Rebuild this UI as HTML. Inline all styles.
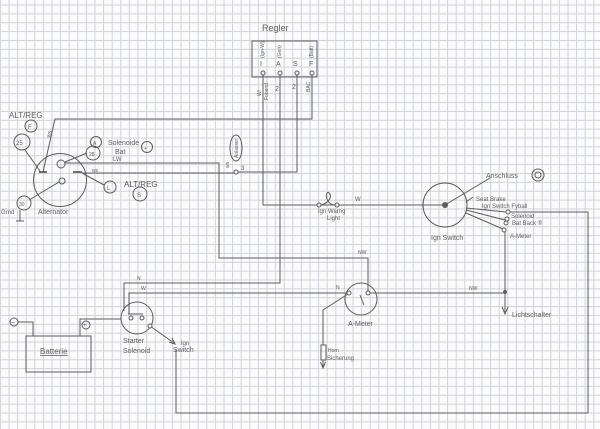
<!DOCTYPE html>
<html><head><meta charset="utf-8"><style>
html,body{margin:0;padding:0;background:#fbfbfb;}
svg{display:block;}
text{font-family:"Liberation Sans",sans-serif;fill:#606060;}
</style></head><body>
<svg width="600" height="429" viewBox="0 0 600 429" xmlns="http://www.w3.org/2000/svg">
<defs>
<pattern id="g" x="8.5" y="4.5" width="8.6" height="8.87" patternUnits="userSpaceOnUse">
<path d="M0.5 0V8.87M0 0.5H8.6" stroke="#d0d3da" stroke-width="1" fill="none"/>
</pattern>
</defs>
<rect width="600" height="429" fill="#fbfbfb"/>
<rect width="600" height="429" fill="url(#g)"/>

<g fill="none" stroke="#5c5c5c" stroke-width="1">
<rect x="252" y="41" width="65" height="36"/>
<path d="M263 75V205H317M321 205H335M339 205H443"/>
<circle cx="319" cy="205" r="2"/>
<circle cx="337" cy="205" r="2"/>
<path d="M321 205C326 204 332 199 330 194C328 190 325 194 327 199C329 204 333 205 335 205"/>
<path d="M280 75V283H124V311"/>
<path d="M297 75V172H238"/>
<path d="M312 75V119H55L43 172"/>
<path d="M65 163H219V258H368V291"/>
<path d="M82 173H234"/>
<path d="M129 314V293H347"/>
<path d="M370 293H505"/>
<path d="M505 231V312"/>
<path d="M502 307L505 314L508 307" />
<path d="M348 294L323 310V345M323 360V367"/>
<rect x="321" y="345" width="5" height="15"/>
<path d="M320.5 362L323 368L325.5 362"/>
<rect x="26" y="336" width="65" height="36"/>
<path d="M80 336V319H121"/>
<path d="M18 322H33V336"/>
<circle cx="14" cy="322" r="4"/>
<circle cx="86" cy="325" r="4"/>
<circle cx="137" cy="318" r="16"/>
<path d="M128 314H143"/>
<path d="M150 326L174 343"/>
<path d="M169 342L175 344L172 338"/>
<path d="M176 350V413H588V212H509"/>
<circle cx="361" cy="299" r="16"/>
<path d="M360 295L364 305"/>
<circle cx="445" cy="205" r="22"/>
<path d="M445 205L490 178"/>
<path d="M466 208L506 212M466 210L505 220M466 213L503 229"/>
<path d="M466 202L473 197"/>
<circle cx="60" cy="180" r="26.5"/>
<circle cx="61" cy="164" r="4"/>
<circle cx="62" cy="181" r="3"/>
<path d="M39 172H47M73 172H82" stroke-width="1.8"/>
<path d="M65 162L87 153"/>
<path d="M82 173L104 185"/>
<path d="M25 150L40 171"/>
<path d="M29 200L59 182"/>
<path d="M20 210V221M16 221H24"/>
<circle cx="93" cy="153" r="7"/>
<circle cx="96" cy="142" r="5.5"/>
<circle cx="110" cy="187" r="6"/>
<circle cx="22" cy="142" r="8"/>
<circle cx="31" cy="126" r="6"/>
<circle cx="24" cy="203" r="7"/>
<circle cx="140" cy="194" r="7"/>
<circle cx="147" cy="147" r="5.5"/>
<circle cx="538" cy="175" r="6"/>
<ellipse cx="538" cy="175" rx="3" ry="3"/>
<ellipse cx="236" cy="148" rx="6" ry="13"/>
</g>

<g fill="#fbfbfb" stroke="#5c5c5c" stroke-width="1">
<circle cx="263" cy="73" r="2"/>
<circle cx="280" cy="73" r="2"/>
<circle cx="297" cy="73" r="2"/>
<circle cx="312" cy="73" r="2"/>
<circle cx="236" cy="172" r="2"/>
<circle cx="131" cy="318" r="2"/>
<circle cx="142" cy="318" r="2"/>
<circle cx="150" cy="326" r="2"/>
<circle cx="349" cy="293" r="2"/>
<circle cx="368" cy="293" r="2"/>
<circle cx="508" cy="212" r="2"/>
<circle cx="507" cy="219" r="2"/>
<circle cx="506" cy="223" r="2"/>
<circle cx="504" cy="230" r="2"/>
</g>
<circle cx="445" cy="205" r="3" fill="#5c5c5c"/>
<circle cx="505" cy="292" r="2" fill="#5c5c5c"/>

<g font-size="7">
<text x="262" y="31" font-size="9">Regler</text>
<text x="260" y="66">I</text>
<text x="276" y="66">A</text>
<text x="293" y="66">S</text>
<text x="309" y="66">F</text>
<text transform="translate(264,58) rotate(-90)" font-size="5">(Ign-W)</text>
<text transform="translate(281,58) rotate(-90)" font-size="5">(Gen)</text>
<text transform="translate(313,58) rotate(-90)" font-size="5">(Batt)</text>
<text transform="translate(261,96) rotate(-90)" font-size="5">W/</text>
<text transform="translate(268,100) rotate(-90)" font-size="5">Fobend</text>
<text x="275" y="91">2</text>
<text x="292" y="89">2</text>
<text transform="translate(310,92) rotate(-90)" font-size="5">BAC</text>
<text transform="translate(238,158) rotate(-90)" font-size="5">Anlasser</text>
<text transform="translate(229,168) rotate(-90)" font-size="5">ws</text>
<text x="241" y="170" font-size="6">3</text>
<text x="9" y="118" font-size="8">ALT/REG</text>
<text x="28" y="129" font-size="6">F</text>
<text x="16" y="145" font-size="6">25</text>
<text x="89" y="156" font-size="5">28</text>
<text x="93" y="145" font-size="5">A</text>
<text x="108" y="145">Solenoide</text>
<text x="115" y="154">Bat</text>
<text x="113" y="161" font-size="6">LW</text>
<text x="144" y="150" font-size="5">+</text>
<text transform="translate(50,138) rotate(-75)" font-size="6">ws</text>
<text x="92" y="172" font-size="5">ws</text>
<text x="107" y="190" font-size="6">L</text>
<text x="124" y="187" font-size="8">ALT/REG</text>
<text x="137" y="197" font-size="6">S</text>
<text x="19" y="206" font-size="5">30</text>
<text x="1" y="214" font-size="6">Grnd</text>
<text x="38" y="214">Alternator</text>
<text x="318" y="213" font-size="6">Ign Warng</text>
<text x="327" y="220" font-size="6">Light</text>
<text x="355" y="201" font-size="6">W</text>
<text x="358" y="254" font-size="5">NW</text>
<text x="137" y="280" font-size="5">N</text>
<text x="141" y="290" font-size="5">W</text>
<text x="336" y="289" font-size="5">N</text>
<text x="469" y="290" font-size="5">NW</text>
<text x="486" y="178">Anschluss</text>
<text x="476" y="201" font-size="6">Seat Brake</text>
<text x="482" y="208" font-size="6">Ign Switch  Fyball</text>
<text x="511" y="218" font-size="6">Solenoid</text>
<text x="512" y="225" font-size="6">Bat Back ®</text>
<text x="510" y="238" font-size="6">A-Meter</text>
<text x="431" y="240">Ign Switch</text>
<text x="512" y="317">Lichtschalter</text>
<text x="348" y="326">A-Meter</text>
<text x="328" y="352" font-size="5">Horn</text>
<text x="327" y="360" font-size="6">Sicherung</text>
<text x="40" y="354" font-size="8" text-decoration="underline">Batterie</text>
<text x="11" y="325" font-size="7">−</text>
<text x="83" y="327" font-size="6">+</text>
<text x="123" y="343">Starter</text>
<text x="123" y="353">Solenoid</text>
<text x="181" y="345" font-size="6">Ign</text>
<text x="173" y="352">Switch</text>
</g>
</svg>
</body></html>
